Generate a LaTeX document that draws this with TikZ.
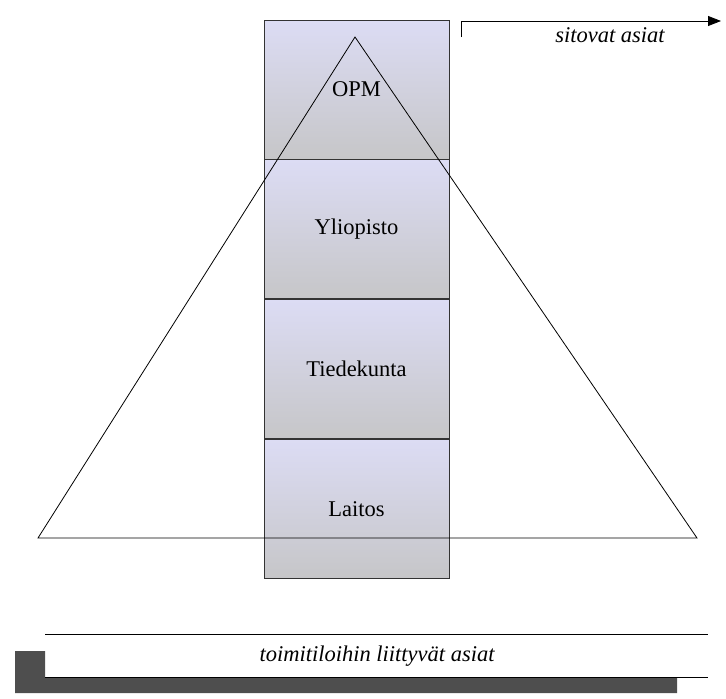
\documentclass[tikz,border=0pt]{standalone}
\usepackage{fontspec}
\setmainfont{Liberation Serif}
\usetikzlibrary{positioning,arrows.meta}
\definecolor{boxtop}{RGB}{220,220,244}
\definecolor{boxbottom}{RGB}{198,198,200}
\definecolor{bardark}{RGB}{78,78,78}

\begin{document}
\begin{tikzpicture}[x=1pt,y=-1pt,
    label/.style={font=\fontsize{22.5}{26}\selectfont\itshape}]
  \useasboundingbox (0,0) rectangle (726,699);

  \begin{scope}[every node/.style={draw=black!80,line width=0.8pt,
      minimum width=185pt,minimum height=139pt,inner sep=0pt,
      top color=boxtop,bottom color=boxbottom,
      font=\fontsize{22.5}{26}\selectfont}]
    \node (opm) at (356.5,89.5) {\raisebox{-6pt}{OPM}};
    \node (yliopisto) [below=0pt of opm] {Yliopisto};
    \node (tiedekunta) [below=0pt of yliopisto] {Tiedekunta};
    \node (laitos) [below=0pt of tiedekunta] {Laitos};
  \end{scope}

  % pyramidi
  \coordinate (apex) at (355,37);
  \coordinate (baseleft) at (38,538);
  \coordinate (baseright) at (697,538);
  \draw[line width=0.8pt] (apex) -- (baseleft) -- (baseright) -- cycle;

  % sitovat asiat
  \coordinate (arrstart) at (461,37);
  \coordinate (arrend) at (721,21);
  \draw[line width=0.8pt,-{Triangle[length=13pt,width=10pt]}] (arrstart) |- (arrend);
  \node[label] (sitovat) at (610,35) {sitovat asiat};

  % toimitilat
  \coordinate (lineleft) at (45,634);
  \coordinate (lineright) at (708,634);
  \draw[line width=0.8pt] (lineleft) -- (lineright);
  \node[label] (toimitilat) at (377,656) {toimitiloihin liittyvät asiat};
  \fill[bardark] (15,651) -- (45,651) -- (45,677) -- (677,677)
    -- (677,693) -- (15,693) -- cycle;
  \coordinate (barleft) at (45,677);
  \coordinate (barright) at (708,677);
  \draw[line width=0.8pt] (barleft) -- (barright);
\end{tikzpicture}
\end{document}
